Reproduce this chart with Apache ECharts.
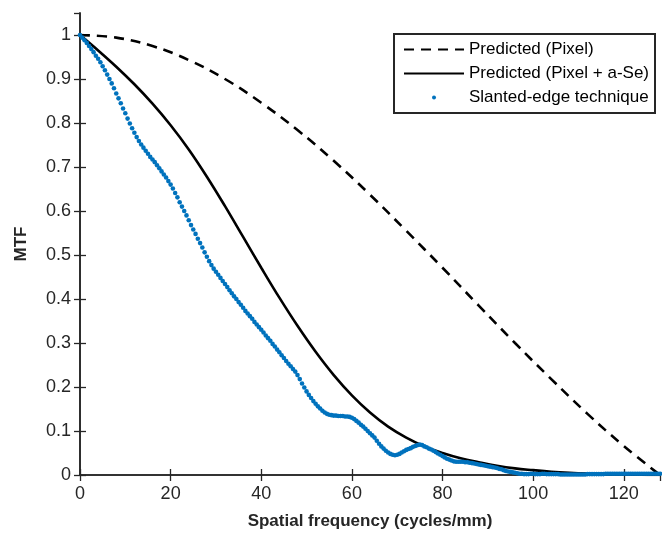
<!DOCTYPE html>
<html>
<head>
<meta charset="utf-8">
<script src="https://cdn.jsdelivr.net/npm/echarts@6/dist/echarts.min.js"></script>
<style>
  html, body { margin: 0; padding: 0; background: #fff; }
  #chart { width: 662px; height: 537px; }
</style>
</head>
<body>
<div id="chart"></div>
<script>
// MTF vs spatial frequency — two predicted curves plus slanted-edge measurement
const pixelFreq = [0, 8, 16, 24, 32, 40, 48, 56, 64, 72, 80, 88, 96, 104, 112, 120, 128];
const pixelMtf = [1, 0.994, 0.975, 0.943, 0.9, 0.846, 0.784, 0.714, 0.637, 0.555, 0.471, 0.385, 0.3, 0.218, 0.139, 0.066, 0];

const aseFreq = [0, 4, 8, 12, 16, 20, 24, 28, 32, 36, 40, 44, 48, 52, 56, 60, 64, 68, 72, 76, 80, 84, 88, 92, 96, 100, 104, 108, 112, 116, 120, 124, 128];
const aseMtf = [1, 0.965, 0.928, 0.888, 0.844, 0.795, 0.74, 0.678, 0.611, 0.541, 0.471, 0.403, 0.339, 0.28, 0.227, 0.181, 0.142, 0.11, 0.085, 0.065, 0.05, 0.038, 0.029, 0.021, 0.015, 0.011, 0.0075, 0.005, 0.0032, 0.002, 0.0012, 0.0005, 0];

// measured points, one every 0.5 cycles/mm starting at 0
const edgeStep = 0.5;
const edgeMtf = [
  1.000, 0.994, 0.988, 0.982, 0.975, 0.968, 0.961, 0.953, 0.946, 0.938,
  0.929, 0.920, 0.910, 0.900, 0.890, 0.879, 0.867, 0.856, 0.845, 0.833,
  0.822, 0.810, 0.799, 0.788, 0.778, 0.768, 0.759, 0.751, 0.744, 0.737,
  0.730, 0.723, 0.717, 0.711, 0.704, 0.697, 0.690, 0.683, 0.676, 0.668,
  0.660, 0.651, 0.641, 0.631, 0.620, 0.610, 0.600, 0.590, 0.579, 0.568,
  0.558, 0.548, 0.537, 0.527, 0.517, 0.506, 0.496, 0.486, 0.477, 0.469,
  0.462, 0.455, 0.448, 0.441, 0.434, 0.427, 0.420, 0.413, 0.406, 0.400,
  0.393, 0.387, 0.380, 0.373, 0.367, 0.361, 0.355, 0.348, 0.342, 0.336,
  0.330, 0.324, 0.317, 0.311, 0.305, 0.298, 0.292, 0.285, 0.279, 0.272,
  0.266, 0.259, 0.253, 0.247, 0.241, 0.235, 0.227, 0.218, 0.208, 0.199,
  0.190, 0.182, 0.175, 0.168, 0.162, 0.156, 0.151, 0.146, 0.142, 0.139,
  0.137, 0.136, 0.135, 0.135, 0.134, 0.134, 0.134, 0.133, 0.133, 0.132,
  0.130, 0.127, 0.123, 0.119, 0.114, 0.110, 0.105, 0.100, 0.095, 0.090,
  0.085, 0.078, 0.071, 0.065, 0.060, 0.055, 0.051, 0.048, 0.046, 0.045,
  0.046, 0.048, 0.051, 0.054, 0.057, 0.059, 0.061, 0.064, 0.066, 0.068,
  0.069, 0.068, 0.065, 0.063, 0.060, 0.058, 0.055, 0.052, 0.049, 0.046,
  0.043, 0.040, 0.037, 0.035, 0.033, 0.031, 0.030, 0.030, 0.030, 0.030,
  0.029, 0.029, 0.028, 0.027, 0.026, 0.025, 0.024, 0.023, 0.022, 0.021,
  0.020, 0.019, 0.018, 0.017, 0.016, 0.014, 0.013, 0.011, 0.009, 0.008,
  0.007, 0.006, 0.005, 0.004, 0.003, 0.003, 0.002, 0.002, 0.002, 0.003,
  0.003, 0.002, 0.002, 0.002, 0.003, 0.003, 0.002, 0.002, 0.002, 0.002,
  0.002, 0.002, 0.001, 0.001, 0.001, 0.001, 0.001, 0.001, 0.001, 0.001,
  0.001, 0.001, 0.001, 0.001, 0.002, 0.002, 0.002, 0.002, 0.002, 0.002,
  0.002, 0.002, 0.003, 0.003, 0.003, 0.003, 0.003, 0.003, 0.003, 0.003,
  0.003, 0.003, 0.003, 0.003, 0.003, 0.003, 0.003, 0.003, 0.003, 0.003,
  0.003, 0.003, 0.003, 0.003, 0.003, 0.003, 0.003
];

const xTickInterval = 20;
const yTickInterval = 0.1;

const ink = "#262626";
const font = "'Liberation Sans', Arial, Helvetica, sans-serif";

const pair = (xs, ys) => xs.map((x, i) => [x, ys[i]]);

const chart = echarts.init(document.getElementById("chart"), null, { renderer: "canvas" });

const frameAxis = {
  axisLine: { show: true, lineStyle: { color: ink, width: 1.6 } },
  axisTick: { show: true, inside: true, length: 6, lineStyle: { color: ink, width: 1.3 } },
  splitLine: { show: false },
};

chart.setOption({
  animation: false,
  grid: { left: 80, right: 2, top: 13, bottom: 62, containLabel: false },
  legend: {
    orient: "vertical",
    right: 7,
    top: 34,
    itemWidth: 60,
    itemHeight: 4,
    itemGap: 7,
    padding: [7, 6, 7, 9],
    borderColor: ink,
    borderWidth: 2,
    backgroundColor: "#fff",
    textStyle: { color: "#000", fontSize: 17, fontFamily: font },
    data: [
      { name: "Predicted (Pixel)", itemStyle: { opacity: 0 } },
      { name: "Predicted (Pixel + a-Se)", itemStyle: { opacity: 0 } },
      { name: "Slanted-edge technique" },
    ],
  },
  xAxis: [
    {
      ...frameAxis,
      type: "value",
      min: 0,
      max: 128,
      interval: xTickInterval,
      position: "bottom",
      name: "Spatial frequency (cycles/mm)",
      nameLocation: "middle",
      nameGap: 38,
      nameTextStyle: { color: ink, fontSize: 17, fontWeight: "bold", fontFamily: font },
      axisLabel: { color: ink, fontSize: 18, fontFamily: font, margin: 10, showMaxLabel: false },
    },
    {
      ...frameAxis,
      type: "value",
      min: 0,
      max: 128,
      interval: xTickInterval,
      position: "top",
      axisLabel: { show: false },
    },
  ],
  yAxis: [
    {
      ...frameAxis,
      type: "value",
      min: 0,
      max: 1.05,
      interval: yTickInterval,
      position: "left",
      name: "MTF",
      nameLocation: "middle",
      nameGap: 50,
      nameTextStyle: { color: ink, fontSize: 17, fontWeight: "bold", fontFamily: font },
      axisLabel: { color: ink, fontSize: 18, fontFamily: font, margin: 9, showMaxLabel: false },
    },
    {
      ...frameAxis,
      type: "value",
      min: 0,
      max: 1.05,
      interval: yTickInterval,
      position: "right",
      axisLabel: { show: false },
    },
  ],
  series: [
    {
      name: "Predicted (Pixel)",
      type: "line",
      data: pair(pixelFreq, pixelMtf),
      symbol: "none",
      smooth: 0.4,
      lineStyle: { color: "#000", width: 2.6, type: [10, 7] },
      itemStyle: { color: "#000" },
      z: 3,
    },
    {
      name: "Predicted (Pixel + a-Se)",
      type: "line",
      data: pair(aseFreq, aseMtf),
      symbol: "none",
      smooth: 0.4,
      lineStyle: { color: "#000", width: 2.6 },
      itemStyle: { color: "#000" },
      z: 3,
    },
    {
      name: "Slanted-edge technique",
      type: "scatter",
      data: edgeMtf.map((v, i) => [i * edgeStep, v]),
      symbol: "circle",
      symbolSize: 4.6,
      itemStyle: { color: "#0072BD", opacity: 1 },
      z: 4,
    },
  ],
});
</script>
</body>
</html>
